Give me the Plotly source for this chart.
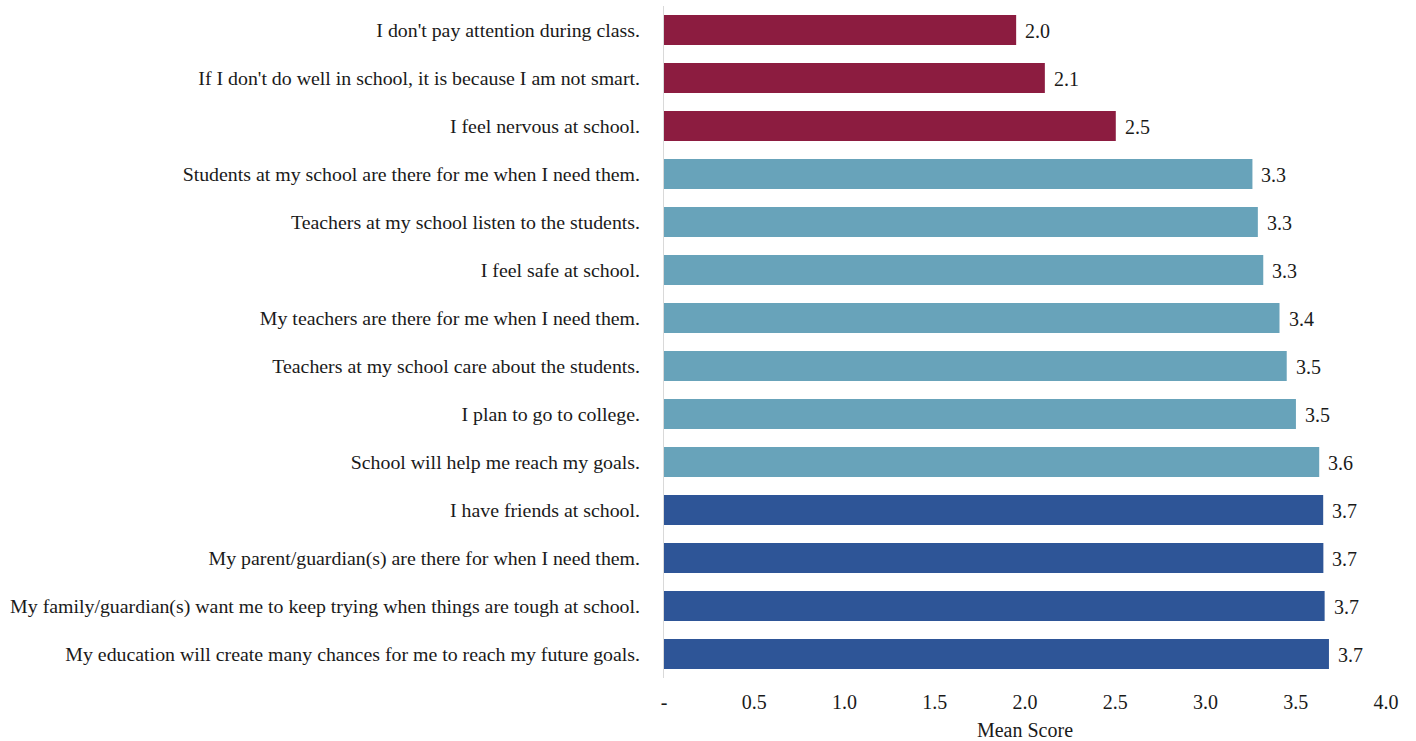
import plotly.graph_objects as go

categories = [
    "I don't pay attention during class.",
    "If I don't do well in school, it is because I am not smart.",
    "I feel nervous at school.",
    "Students at my school are there for me when I need them.",
    "Teachers at my school listen to the students.",
    "I feel safe at school.",
    "My teachers are there for me when I need them.",
    "Teachers at my school care about the students.",
    "I plan to go to college.",
    "School will help me reach my goals.",
    "I have friends at school.",
    "My parent/guardian(s) are there for when I need them.",
    "My family/guardian(s) want me to keep trying when things are tough at school.",
    "My education will create many chances for me to reach my future goals.",
]
values = [1.951, 2.11, 2.503, 3.26, 3.29, 3.32, 3.41, 3.45, 3.501, 3.63, 3.652, 3.653, 3.66, 3.684]
groups = ["neg", "neg", "neg", "mid", "mid", "mid", "mid", "mid", "mid", "mid",
          "top", "top", "top", "top"]
group_colors = {"neg": "#8C1C40", "mid": "#68A3BA", "top": "#2E5597"}

tick_vals = [0, 0.5, 1.0, 1.5, 2.0, 2.5, 3.0, 3.5, 4.0]
tick_text = ["-", "0.5", "1.0", "1.5", "2.0", "2.5", "3.0", "3.5", "4.0"]

FONT = "Liberation Serif, Times New Roman, serif"
FS = 20

fig = go.Figure(go.Bar(
    x=values,
    y=categories,
    orientation="h",
    marker=dict(color=[group_colors[g] for g in groups], line=dict(width=0)),
    hoverinfo="x+y",
))

for cat, v in zip(categories, values):
    fig.add_annotation(x=v, y=cat, text=f"{v:.1f}", showarrow=False,
                       xanchor="left", xshift=7, yshift=-1,
                       font=dict(family=FONT, size=FS, color="#1a1a1a"))

fig.update_layout(
    width=1416, height=741,
    margin=dict(l=664, r=30, t=6, b=63),
    paper_bgcolor="white", plot_bgcolor="white",
    bargap=0.375,
    showlegend=False,
    font=dict(family=FONT, size=FS, color="#1a1a1a"),
)
fig.update_xaxes(
    range=[0, 4.0], tickvals=tick_vals, ticktext=tick_text,
    showgrid=False, zeroline=False, showline=False,
    ticks="", ticklabelstandoff=10, automargin=False,
    title=dict(text="Mean Score", font=dict(family=FONT, size=FS), standoff=11),
    tickfont=dict(family=FONT, size=FS),
)
fig.update_yaxes(
    autorange="reversed", showgrid=False, zeroline=False,
    showline=True, linecolor="#d9d9d9", linewidth=1,
    ticks="", ticklabelstandoff=19,
    tickfont=dict(family=FONT, size=19.85),
)

fig.write_html("out.html")
